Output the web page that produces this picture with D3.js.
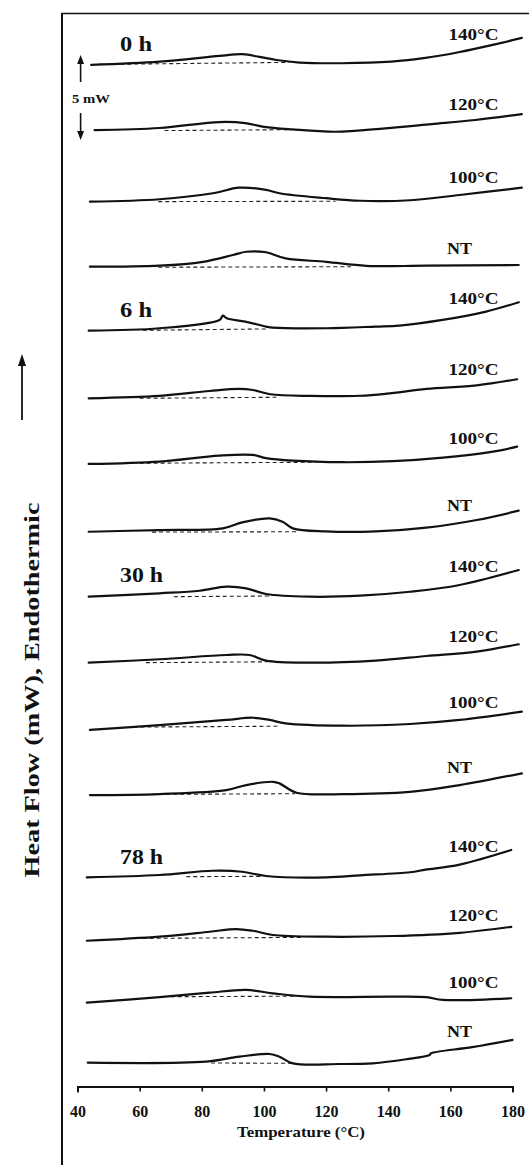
<!DOCTYPE html>
<html><head><meta charset="utf-8">
<script src="https://cdn.jsdelivr.net/npm/d3@7"></script>
<style>
body{margin:0;background:#fff}
text{font-family:"Liberation Serif","Times New Roman",Times,serif;font-weight:bold;fill:#111}
</style>
</head><body>
<svg id="chart" width="529" height="1165"></svg>
<script>
// ---- data ----
const groups = ["0 h", "6 h", "30 h", "78 h"];
const conditions = ["140°C", "120°C", "100°C", "NT"];
const tickValues = [40, 60, 80, 100, 120, 140, 160, 180];
const scaleBarMW = 5;
// vertical offset of each curve (mW), top to bottom
const offsets = [59.71, 55.88, 51.67, 47.84, 44.08, 40.10, 36.24, 32.25, 28.43, 24.55, 20.59, 16.76, 11.92, 8.19, 4.55, 1.02];
// temperatures (°C) of read points for each curve
const temps = [
  [44.4, 66.4, 85.7, 93.1, 98.6, 104, 111.5, 125, 141, 152, 163, 173.6, 183],
  [45.5, 66.4, 85.7, 94, 100, 109, 123, 139, 154, 168, 183],
  [44, 66.4, 83.6, 92, 100.7, 105, 120, 131, 147, 163, 183],
  [44, 66.4, 80.4, 90, 94.3, 100.7, 107, 120, 133, 152, 182],
  [43.6, 66.4, 85.7, 86.8, 88, 94, 100.7, 102.8, 120, 136, 143.6, 157.5, 171.5, 182],
  [43.6, 66.4, 82.5, 92, 96.4, 102, 115, 131, 139.5, 152.3, 168.5, 181.5],
  [43.6, 66.4, 85.7, 96.4, 100.7, 109.3, 125.4, 141.5, 157.6, 173.7, 181.5],
  [43.6, 66.4, 86.8, 93, 101.8, 106, 109.3, 120, 136, 152.3, 168.5, 182],
  [43.6, 66.4, 79.3, 87.9, 94.3, 100.7, 114.7, 131, 147, 163, 182],
  [43.6, 66.4, 87.9, 95.4, 100.7, 114.7, 136, 152.3, 168.5, 182],
  [44, 66.4, 87.9, 96.4, 101.8, 107, 125.4, 147, 163, 183],
  [44, 66.4, 87.9, 94.3, 103, 105, 110.5, 125.4, 147, 163, 183],
  [43, 66.4, 83.6, 93, 100.7, 120, 131, 147, 152, 163, 179.6],
  [43, 66.4, 82.5, 91, 96.4, 102.8, 120, 141.5, 163, 179.6],
  [43, 66.4, 82.5, 94.3, 102.8, 114.7, 141.5, 152.3, 157.6, 179.6],
  [43.3, 81.4, 92.1, 101.8, 105, 109.3, 124.3, 135, 145.8, 153.3, 153.8, 167, 180]
];
// heat flow (mW) relative to curve offset
const flows = [
  [0, 0.19, 0.53, 0.63, 0.47, 0.29, 0.14, 0.10, 0.19, 0.41, 0.76, 1.18, 1.59],
  [0, 0.12, 0.47, 0.41, 0.19, 0.04, -0.10, 0.10, 0.35, 0.59, 0.94],
  [0, 0.14, 0.49, 0.82, 0.69, 0.49, 0.20, 0.05, 0.08, 0.39, 0.82],
  [0, 0.06, 0.29, 0.69, 0.88, 0.85, 0.49, 0.29, 0.05, 0.06, 0.10],
  [0, 0.14, 0.63, 0.88, 0.73, 0.53, 0.24, 0.18, 0.14, 0.24, 0.30, 0.63, 1.12, 1.67],
  [0, 0.14, 0.43, 0.55, 0.49, 0.24, 0.14, 0.15, 0.27, 0.55, 0.76, 1.12],
  [0, 0.14, 0.49, 0.53, 0.34, 0.19, 0.10, 0.16, 0.37, 0.72, 1.02],
  [0, 0.10, 0.20, 0.55, 0.79, 0.59, 0.20, 0.02, 0.02, 0.24, 0.69, 1.24],
  [0, 0.20, 0.35, 0.59, 0.49, 0.16, 0, 0.06, 0.29, 0.69, 1.57],
  [0, 0.20, 0.45, 0.45, 0.12, 0, 0.12, 0.39, 0.65, 1.08],
  [0, 0.29, 0.59, 0.72, 0.59, 0.39, 0.25, 0.35, 0.59, 1.08],
  [0, 0.06, 0.29, 0.59, 0.78, 0.69, 0.14, 0.06, 0.19, 0.59, 1.28],
  [0, 0.14, 0.39, 0.33, 0.08, 0, 0.12, 0.30, 0.45, 0.75, 1.61],
  [0, 0.24, 0.53, 0.69, 0.59, 0.34, 0.24, 0.28, 0.47, 0.82],
  [0, 0.32, 0.59, 0.75, 0.55, 0.35, 0.35, 0.32, 0.16, 0.26],
  [0, 0.06, 0.35, 0.51, 0.35, -0.04, -0.08, -0.04, 0.20, 0.45, 0.55, 0.91, 1.34]
];
// dashed integration baselines: [T start, T end, mW start, mW end]
const baselines = [
  [47, 108, 0.03, 0.15], [68, 108, -0.03, 0.02], [66, 123, 0.0, 0.02], [66, 128, -0.03, 0.0],
  [61, 101, 0.02, 0.10], [60, 104, 0.0, 0.06], [60, 117, 0.04, 0.10], [64, 111, -0.02, 0.0],
  [71, 102, 0.0, 0.04], [62, 101, 0.0, 0.05], [58, 105, 0.17, 0.22], [64, 110, 0.04, 0.08],
  [75, 99, 0.04, 0.06], [61, 112, 0.14, 0.20], [70, 110, 0.35, 0.38], [83, 110, -0.02, -0.04]
];

// ---- drawing ----
const svg = d3.select("#chart");
const x = d3.scaleLinear().domain([40, 180]).range([77.5, 512.5]);
const y = d3.scaleLinear().domain([0, 62]).range([1080, 26]);

// frame
svg.append("line").attr("x1", 62).attr("x2", 62).attr("y1", 13).attr("y2", 1165)
  .attr("stroke", "#111").attr("stroke-width", 2);
svg.append("line").attr("x1", 61).attr("x2", 529).attr("y1", 13.5).attr("y2", 13.5)
  .attr("stroke", "#111").attr("stroke-width", 1.6);

const line = d3.line().x(d => x(d[0])).y(d => y(d[1])).curve(d3.curveCatmullRom.alpha(0.5));

offsets.forEach((off, i) => {
  const pts = temps[i].map((t, j) => [t, off + flows[i][j]]);
  const b = baselines[i];
  svg.append("line")
    .attr("x1", x(b[0])).attr("x2", x(b[1]))
    .attr("y1", y(off + b[2])).attr("y2", y(off + b[3]))
    .attr("stroke", "#222").attr("stroke-width", 1.1).attr("stroke-dasharray", "4,3");
  svg.append("path").datum(pts).attr("d", line)
    .attr("fill", "none").attr("stroke", "#111").attr("stroke-width", 2.2)
    .attr("stroke-linejoin", "round").attr("stroke-linecap", "round");

  const interp = d3.scaleLinear().domain(temps[i]).range(flows[i]);
  const cond = conditions[i % 4];
  const isNT = cond === "NT";
  svg.append("text")
    .attr("x", x(isNT ? 167 : 175.5))
    .attr("y", y(off + interp(165)) - 11)
    .attr("text-anchor", "end")
    .attr("font-size", 16)
    .attr("textLength", isNT ? 25 : 50)
    .attr("lengthAdjust", "spacingAndGlyphs")
    .text(cond);

  if (i % 4 === 0) {
    const g = groups[i / 4];
    svg.append("text")
      .attr("x", x(53.7))
      .attr("y", y(off + interp(60)) - 12)
      .attr("font-size", 20)
      .attr("textLength", g.length > 3 ? 43 : 32)
      .attr("lengthAdjust", "spacingAndGlyphs")
      .text(g);
  }
});

// scale bar (5 mW) between first two curves
const mid = (offsets[0] + offsets[1]) / 2;
const sx = x(41);
const topTip = y(mid + scaleBarMW / 2), botTip = y(mid - scaleBarMW / 2);
svg.append("line").attr("x1", sx).attr("x2", sx).attr("y1", topTip + 4).attr("y2", topTip + 27)
  .attr("stroke", "#111").attr("stroke-width", 1.6);
svg.append("path").attr("d", `M${sx},${topTip} L${sx - 3.5},${topTip + 9} L${sx + 3.5},${topTip + 9} Z`).attr("fill", "#111");
svg.append("line").attr("x1", sx).attr("x2", sx).attr("y1", botTip - 27).attr("y2", botTip - 4)
  .attr("stroke", "#111").attr("stroke-width", 1.6);
svg.append("path").attr("d", `M${sx},${botTip} L${sx - 3.5},${botTip - 9} L${sx + 3.5},${botTip - 9} Z`).attr("fill", "#111");
svg.append("text").attr("x", 72).attr("y", 103).attr("font-size", 12)
  .attr("textLength", 38).attr("lengthAdjust", "spacingAndGlyphs").text(scaleBarMW + " mW");

// x axis
const axis = svg.append("g").attr("transform", "translate(0,1086.5)")
  .call(d3.axisBottom(x).tickValues(tickValues).tickSize(5).tickSizeOuter(6).tickPadding(14).tickFormat(d3.format("d")));
axis.attr("font-family", null).attr("font-size", null);
axis.select(".domain").attr("stroke", "#111").attr("stroke-width", 1.8);
axis.selectAll(".tick line").attr("stroke", "#111").attr("stroke-width", 1.6);
axis.selectAll(".tick text").attr("font-size", 16).style("fill", "#111");
svg.append("text").attr("x", 301).attr("y", 1137).attr("text-anchor", "middle")
  .attr("font-size", 14).attr("textLength", 128).attr("lengthAdjust", "spacingAndGlyphs")
  .text("Temperature (°C)");

// y title + arrow
svg.append("text").attr("transform", "translate(39,690) rotate(-90)")
  .attr("text-anchor", "middle").attr("font-size", 20)
  .attr("textLength", 375).attr("lengthAdjust", "spacingAndGlyphs")
  .text("Heat Flow (mW), Endothermic");
svg.append("line").attr("x1", 22).attr("x2", 22).attr("y1", 420).attr("y2", 362)
  .attr("stroke", "#111").attr("stroke-width", 1.8);
svg.append("path").attr("d", "M22,354 L18,366 L26,366 Z").attr("fill", "#111");
</script>
</body></html>
